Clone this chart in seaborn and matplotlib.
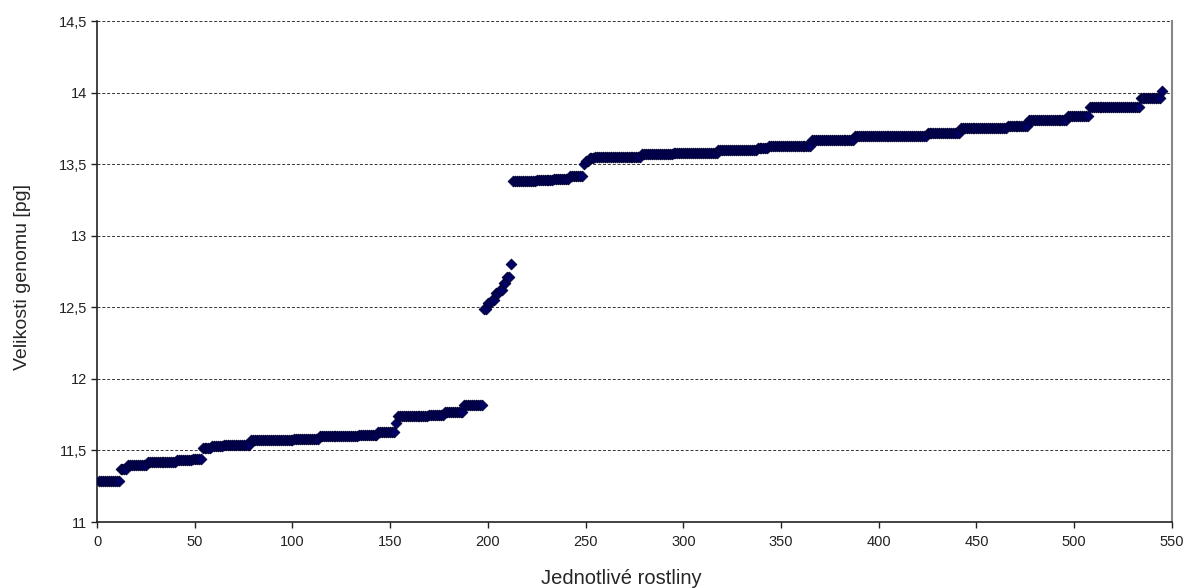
import numpy as np
import pandas as pd
import seaborn as sns
import matplotlib.pyplot as plt
from matplotlib.ticker import FuncFormatter

# Velikosti genomu (pg), seřazené; hodnoty čtené jako úseky (hodnota, počet rostlin)
hodnoty_dolni = [11.29, 11.37, 11.40, 11.42, 11.43, 11.44, 11.52, 11.53, 11.54, 11.57,
                 11.58, 11.60, 11.61, 11.63, 11.69, 11.74, 11.75, 11.77, 11.82]
pocty_dolni = [11, 4, 10, 15, 8, 5, 5, 6, 14, 22, 13, 20, 10, 9, 1, 16, 8, 10, 10]

hodnoty_stred = [12.49, 12.53, 12.55, 12.60, 12.62, 12.67, 12.71, 12.80]
pocty_stred = [2, 2, 2, 2, 2, 2, 2, 1]

hodnoty_horni = [13.38, 13.39, 13.40, 13.42, 13.50, 13.52, 13.54, 13.55, 13.57, 13.58,
                 13.60, 13.61, 13.63, 13.67, 13.70, 13.72, 13.75, 13.77, 13.81, 13.84,
                 13.90, 13.96, 14.01]
pocty_horni = [12, 9, 8, 7, 1, 2, 3, 24, 16, 23, 20, 6, 22, 22, 37, 17, 24, 11, 20, 11,
               26, 11, 1]

velikosti = np.concatenate([
    np.repeat(hodnoty_dolni, pocty_dolni),
    np.repeat(hodnoty_stred, pocty_stred),
    np.repeat(hodnoty_horni, pocty_horni),
])
df = pd.DataFrame({'Rostlina': np.arange(1, len(velikosti) + 1), 'Velikost': velikosti})

sns.set_style('white')
plt.rcParams['font.family'] = ['Liberation Sans', 'DejaVu Sans']

fig = plt.figure(figsize=(11.85, 5.88), dpi=100)
ax = fig.add_axes([0.0819, 0.1122, 0.907, 0.852])

sns.scatterplot(data=df, x='Rostlina', y='Velikost', marker='D', s=30,
                color='#000066', edgecolor='#000033', linewidth=0.6, ax=ax, zorder=3)

ax.set_xlim(0, 550)
ax.set_ylim(11, 14.5)
ax.set_xticks(np.arange(0, 551, 50))
ax.set_yticks(np.arange(11, 14.51, 0.5))
ax.yaxis.set_major_formatter(FuncFormatter(lambda v, p: f'{v:g}'.replace('.', ',')))
ax.grid(axis='y', color='#333333', linestyle=(0, (3, 2)), linewidth=0.7)
ax.tick_params(axis='both', direction='out', length=4.5, width=1, labelsize=10.5,
               colors='#222222', left=True, bottom=True)
ax.tick_params(axis='x', pad=5)
ax.tick_params(axis='y', pad=2.7)

for s in ['left', 'bottom']:
    ax.spines[s].set_color('#222222')
    ax.spines[s].set_linewidth(1.2)
ax.spines['right'].set_color('#888888')
ax.spines['right'].set_linewidth(1.5)
ax.spines['top'].set_visible(False)

ax.set_xlabel('Jednotlivé rostliny', fontsize=14.5)
ax.set_ylabel('Velikosti genomu [pg]', fontsize=14)
ax.xaxis.set_label_coords((621 - 97) / 1075, -(569 - 522) / 501)
ax.yaxis.set_label_coords(-(97 - 31) / 1075, (522 - 277) / 501)

fig.savefig('out.png', dpi=100)
